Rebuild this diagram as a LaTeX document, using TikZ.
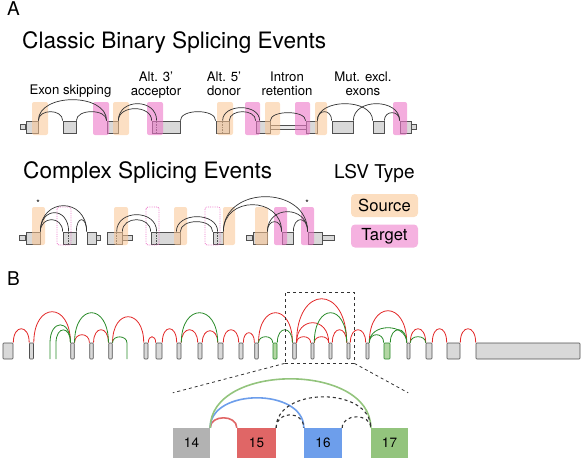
\documentclass[tikz,border=0pt]{standalone}
\usepackage{fontspec}
\setmainfont{TeX Gyre Heros}
\usetikzlibrary{positioning}
\definecolor{linec}{RGB}{80,80,80}
\definecolor{exonc}{RGB}{217,217,217}
\definecolor{srcc}{RGB}{250,196,145}
\definecolor{tgtc}{RGB}{236,118,200}
\definecolor{srclg}{RGB}{252,222,192}
\definecolor{tgtlg}{RGB}{245,178,224}
\definecolor{jred}{RGB}{226,40,40}
\definecolor{jgreen}{RGB}{40,138,40}
\definecolor{zgray}{RGB}{178,178,178}
\definecolor{zred}{RGB}{224,102,102}
\definecolor{zblue}{RGB}{109,158,235}
\definecolor{zgreen}{RGB}{147,196,125}
\tikzset{arch/.style={to path={.. controls +(0,-1.333*#1) and +(0,-1.333*#1) .. (\tikztotarget)}}}
\begin{document}
\begin{tikzpicture}[x=1pt,y=-1pt]
  \tikzstyle{exon}=[draw=linec,fill=exonc,line width=0.7pt,inner sep=0pt,minimum height=12]
  \tikzstyle{utr}=[exon,minimum height=5,minimum width=5]
  \tikzstyle{jn}=[draw=black!80,line width=0.7pt]
  \tikzstyle{alt}=[draw=linec,densely dotted,line width=0.6pt]
  \tikzstyle{src}=[fill=srcc,opacity=0.55,rounded corners=2pt]
  \tikzstyle{tgt}=[fill=tgtc,opacity=0.6,rounded corners=2pt]
  \tikzstyle{tgtdot}=[draw=tgtc,densely dotted,line width=0.8pt,rounded corners=2pt]
  \tikzstyle{bexon}=[draw=linec,fill=exonc,line width=0.6pt,inner sep=0pt,minimum height=16,rounded corners=0.8pt]
  \tikzstyle{newexon}=[bexon,draw=jgreen,fill=zgreen!70]
  \tikzstyle{jr}=[draw=jred,line width=0.8pt]
  \tikzstyle{jg}=[draw=jgreen,line width=0.8pt]
  \tikzstyle{zexon}=[inner sep=0pt,minimum height=30,minimum width=38,font=\fontsize{13.5}{15}\selectfont]
  \tikzstyle{zj}=[line width=1.6pt]
  \tikzstyle{lab}=[inner sep=0pt,align=center,font=\fontsize{13.2}{13.5}\selectfont]
  \useasboundingbox (0,0) rectangle (587,467);

  % panel A
  \node[anchor=base west,inner sep=0pt,font=\fontsize{19}{22}\selectfont] (pa) at (7,15) {A};
  \node[anchor=base west,inner sep=0pt,font=\fontsize{22.6}{27}\selectfont] (t1) at (22,48) {Classic Binary Splicing Events};
  \node[lab,anchor=base] (l1) at (70.5,94) {Exon skipping};
  \node[lab,anchor=base] (l2) at (156,95) {Alt. 3'\\acceptor};
  \node[lab,anchor=base] (l3) at (224,95) {Alt. 5'\\donor};
  \node[lab,anchor=base] (l4) at (287,95) {Intron\\retention};
  \node[lab,anchor=base] (l5) at (363,95) {Mut. excl.\\exons};

  % classic events
  \node[exon,minimum width=12] (c1) at (32,127) {};
  \node[utr,left=0pt of c1] (c1u) {};
  \node[exon,minimum width=13] (c2) at (69.5,127) {};
  \node[exon,minimum width=11] (c3) at (112.5,127) {};
  \node[exon,minimum width=28] (c4) at (166,127) {};
  \node[exon,minimum width=13] (c5) at (222.5,127) {};
  \node[exon,minimum width=14] (c6) at (263,127) {};
  \node[exon,minimum width=36,minimum height=4,fill=exonc!50] (ir) at (288,127) {};
  \node[exon,minimum width=11] (c7) at (311.5,127) {};
  \node[exon,minimum width=21] (c8) at (342.5,127) {};
  \node[exon,minimum width=11] (c9) at (378.5,127) {};
  \node[exon,minimum width=11] (c10) at (405.5,127) {};
  \node[utr,right=0pt of c10] (c10u) {};
  \draw[alt] ([xshift=5]c4.north west) -- ([xshift=5]c4.south west);
  \draw[alt] ([xshift=7]c5.north west) -- ([xshift=7]c5.south west);

  \fill[src] (32,102) rectangle (48,135);
  \fill[src] (113,102) rectangle (129,135);
  \fill[src] (217,102) rectangle (233,135);
  \fill[src] (265,102) rectangle (280,135);
  \fill[src] (315,102) rectangle (327,135);
  \fill[tgt] (93,102) rectangle (109,135);
  \fill[tgt] (147,102) rectangle (163,135);
  \fill[tgt] (245,102) rectangle (260,135);
  \fill[tgt] (295,102) rectangle (310,135);
  \fill[tgt] (393,102) rectangle (407,135);

  \draw[jn] (c1.north east) to[arch=9] (c2.north west);
  \draw[jn] (c2.north east) to[arch=9] (c3.north west);
  \draw[jn] (c1.north east) to[arch=21] (c3.north west);
  \draw[jn] (c3.north east) to[arch=17] ([xshift=5]c4.north west);
  \draw[jn] (c3.north east) to[arch=12] (c4.north west);
  \draw[jn] (c4.north east) to[arch=9] (c5.north west);
  \draw[jn] ([xshift=7]c5.north west) to[arch=13] ([xshift=4]c6.north west);
  \draw[jn] (c5.north east) to[arch=9] (c6.north west);
  \draw[jn] (c6.north east) to[arch=8] (c7.north west);
  \draw[jn] (c7.north east) to[arch=9] (c8.north west);
  \draw[jn] (c7.north east) to[arch=17] (c9.north west);
  \draw[jn] (c8.north east) to[arch=17] (c10.north west);
  \draw[jn] (c9.north east) to[arch=8] (c10.north west);

  % complex events
  \node[anchor=base west,inner sep=0pt,font=\fontsize{22.6}{27}\selectfont] (t2) at (23,178) {Complex Splicing Events};
  \node[anchor=base west,inner sep=0pt,font=\fontsize{19}{22}\selectfont] (t3) at (334,178) {LSV Type};
  \node[fill=srclg,rounded corners=4pt,minimum width=67,minimum height=23,inner sep=0pt,font=\fontsize{16.6}{18}\selectfont] (lsrc) at (384.5,205.5) {Source};
  \node[fill=tgtlg,rounded corners=4pt,minimum width=67,minimum height=23,inner sep=0pt,font=\fontsize{16.6}{18}\selectfont] (ltgt) at (384.5,236) {Target};

  \node[exon,minimum width=14] (d1) at (33,238) {};
  \node[utr,minimum width=6,left=0pt of d1] (d1u) {};
  \node[exon,minimum width=13] (d2) at (69.5,238) {};
  \node[exon,minimum width=9] (d3) at (91.5,238) {};
  \node[utr,minimum width=4,right=0pt of d3] (d3u) {};
  \node[exon,minimum width=15] (d4) at (114.5,238) {};
  \node[utr,minimum width=10,right=0pt of d4] (d4u) {};
  \node[exon,minimum width=29] (d5) at (165.5,238) {};
  \node[exon,minimum width=10] (d6) at (218,238) {};
  \node[exon,minimum width=14] (d7) at (260,238) {};
  \node[utr,minimum width=6,left=0pt of d7] (d7u) {};
  \node[exon,minimum width=11] (d8) at (287.5,238) {};
  \node[exon,minimum width=14] (d9) at (315,238) {};
  \node[utr,minimum width=12,right=0pt of d9] (d9u) {};
  \draw[alt] ([xshift=6]d2.north west) -- ([xshift=6]d2.south west);
  \draw[alt] ([xshift=10]d4.north west) -- ([xshift=10]d4.south west);
  \draw[alt] ([xshift=6]d5.north west) -- ([xshift=6]d5.south west);
  \draw[alt] ([xshift=5]d6.north west) -- ([xshift=5]d6.south west);

  \fill[src] (32,207) rectangle (45,245);
  \fill[src] (114,207) rectangle (128,245);
  \fill[src] (174,207) rectangle (187,245);
  \fill[src] (223,207) rectangle (235,245);
  \fill[src] (255,207) rectangle (268,245);
  \fill[tgt] (274,207) rectangle (287,245);
  \fill[tgt] (301,207) rectangle (314,245);
  \draw[tgtdot] (57,207) rectangle (71,245);
  \draw[tgtdot] (146,207) rectangle (159,245);
  \draw[tgtdot] (205,207) rectangle (220,245);
  \node[inner sep=0pt,font=\fontsize{9}{9}\selectfont] (ast1) at (38,203) {*};
  \node[inner sep=0pt,font=\fontsize{9}{9}\selectfont] (ast2) at (307,203) {*};

  \draw[jn] (d1.north east) to[arch=12] (d2.north west);
  \draw[jn] (d1.north east) to[arch=19] ([xshift=6]d2.north west);
  \draw[jn] (d1.north east) to[arch=26] (d3.north west);
  \draw[jn] (d2.north east) to[arch=12] (d3.north west);
  \draw[jn] ([xshift=10]d4.north west) to[arch=17] ([xshift=6]d5.north west);
  \draw[jn] (d4.north east) to[arch=12] (d5.north west);
  \draw[jn] ([xshift=-4]d5.north east) to[arch=15] ([xshift=5]d6.north west);
  \draw[jn] (d5.north east) to[arch=10] (d6.north west);
  \draw[jn] (d6.north east) to[arch=35] (d9.north west);
  \draw[jn] (d6.north east) to[arch=27] (d8.north west);
  \draw[jn] (d7.north east) to[arch=20] (d9.north west);
  \draw[jn] (d7.north east) to[arch=10] (d8.north west);
  \draw[jn] (d8.north east) to[arch=12] (d9.north west);

  % panel B
  \node[anchor=base west,inner sep=0pt,font=\fontsize{19}{22}\selectfont] (pb) at (7,285) {B};
  \node[bexon,minimum width=10] (n1) at (8,351) {};
  \node[bexon,minimum width=4] (n2) at (31.5,351) {};
  \node[bexon,minimum width=3.5] (n3) at (72.5,351) {};
  \node[bexon,minimum width=3.5] (n4) at (91.5,351) {};
  \node[bexon,minimum width=3.5] (n5) at (110.5,351) {};
  \node[bexon,minimum width=4] (n6) at (146,351) {};
  \node[bexon,minimum width=6] (n7) at (159,351) {};
  \node[bexon,minimum width=4] (n8) at (179,351) {};
  \node[bexon,minimum width=4] (n9) at (200,351) {};
  \node[bexon,minimum width=5] (n10) at (220.5,351) {};
  \node[bexon,minimum width=4] (n11) at (241,351) {};
  \node[bexon,minimum width=3.5] (n12) at (256.5,351) {};
  \node[newexon,minimum width=4] (n13) at (275,351) {};
  \node[bexon,minimum width=3.5] (n14) at (294.5,351) {};
  \node[bexon,minimum width=3] (n15) at (312.5,351) {};
  \node[bexon,minimum width=3] (n16) at (330.5,351) {};
  \node[bexon,minimum width=3] (n17) at (348.5,351) {};
  \node[bexon,minimum width=3] (n18) at (367.5,351) {};
  \node[newexon,minimum width=6] (n19) at (387,351) {};
  \node[bexon,minimum width=3] (n20) at (408.5,351) {};
  \node[bexon,minimum width=6] (n21) at (429,351) {};
  \node[bexon,minimum width=13] (n22) at (453.5,351) {};
  \node[bexon,minimum width=104] (n23) at (528,351) {};
  \coordinate (g1) at (50,359);
  \coordinate (g2) at (56,359);
  \coordinate (g3) at (127,359);

  \draw[jr] (n1.north east) to[arch=14] (n2.north west);
  \draw[jr] (n2.north east) to[arch=31] (n3.north west);
  \draw[jr] (n3.north east) to[arch=8] (n4.north west);
  \draw[jr] (n4.north east) to[arch=13] (n5.north west);
  \draw[jr] (n5.north east) to[arch=26] (n6.north west);
  \draw[jr] (n6.north east) to[arch=6] (n7.north west);
  \draw[jr] (n7.north east) to[arch=14] (n8.north west);
  \draw[jr] (n8.north east) to[arch=13] (n9.north west);
  \draw[jr] (n9.north east) to[arch=12] (n10.north west);
  \draw[jr] (n10.north east) to[arch=13] (n11.north west);
  \draw[jr] (n11.north east) to[arch=10] (n12.north west);
  \draw[jr] (n12.north east) to[arch=30] (n14.north west);
  \draw[jr] (n14.north east) to[arch=6] (n15.north west);
  \draw[jr] (n14.north east) to[arch=20] (n16.north west);
  \draw[jr] (n14.north east) to[arch=44] (n17.north west);
  \draw[jr] (n15.north east) to[arch=6] (n16.north west);
  \draw[jr] (n16.north east) to[arch=13] (n17.north west);
  \draw[jr] (n17.north east) to[arch=13] (n18.north west);
  \draw[jr] (n18.north east) to[arch=32] (n20.north west);
  \draw[jr] (n20.north east) to[arch=14] (n21.north west);
  \draw[jr] (n21.north east) to[arch=14] (n22.north west);
  \draw[jr] (n22.north east) to[arch=14] (n23.north west);

  \draw[jg] (g1) -- ++(0,-16) to[arch=18] (n3.north west);
  \draw[jg] (g2) -- ++(0,-16) to[arch=13] (n3.north west);
  \draw[jg] (n3.north east) to[arch=30] (n5.north west);
  \draw[jg] (n5.north east) to[arch=6] ([yshift=16]g3) -- (g3);
  \draw[jg] (n8.north east) to[arch=30] (n10.north west);
  \draw[jg] (n12.north east) to[arch=6] (n13.north west);
  \draw[jg] (n13.north east) to[arch=13] (n14.north west);
  \draw[jg] (n15.north east) to[arch=30] (n17.north west);
  \draw[jg] (n18.north east) to[arch=8] (n19.north west);
  \draw[jg] (n18.north east) to[arch=15] (n20.north west);
  \draw[jg] (n19.north east) to[arch=13] (n20.north west);
  \draw[jg] (n20.north east) to[arch=6] (n21.north west);

  % zoom
  \node[draw=black!80,dashed,line width=0.8pt,minimum width=69,minimum height=71,inner sep=0pt] (zbox) at (319.5,327.5) {};
  \node[zexon,fill=zgray,minimum width=37] (z14) at (191.5,443) {14};
  \node[zexon,fill=zred,minimum width=39] (z15) at (256.5,443) {15};
  \node[zexon,fill=zblue,minimum width=38] (z16) at (323,443) {16};
  \node[zexon,fill=zgreen,minimum width=37] (z17) at (389.5,443) {17};
  \draw[black!80,dashed,line width=0.8pt] (zbox.south west) -- ([yshift=35]z14.north west);
  \draw[black!80,dashed,line width=0.8pt] (zbox.south east) -- ([yshift=35]z17.north east);

  \draw[zj,zred] (z14.north east) to[arch=10] (z15.north west);
  \draw[zj,zblue] (z14.north east) to[arch=30] (z16.north west);
  \draw[zj,zgreen] (z14.north east) to[arch=49] (z17.north west);
  \draw[black!80,dashed,line width=1.1pt] (z15.north east) to[arch=13] (z16.north west);
  \draw[black!80,dashed,line width=1.1pt] (z15.north east) to[arch=31] (z17.north west);
  \draw[black!80,dashed,line width=1.1pt] (z16.north east) to[arch=11] (z17.north west);
\end{tikzpicture}
\end{document}
